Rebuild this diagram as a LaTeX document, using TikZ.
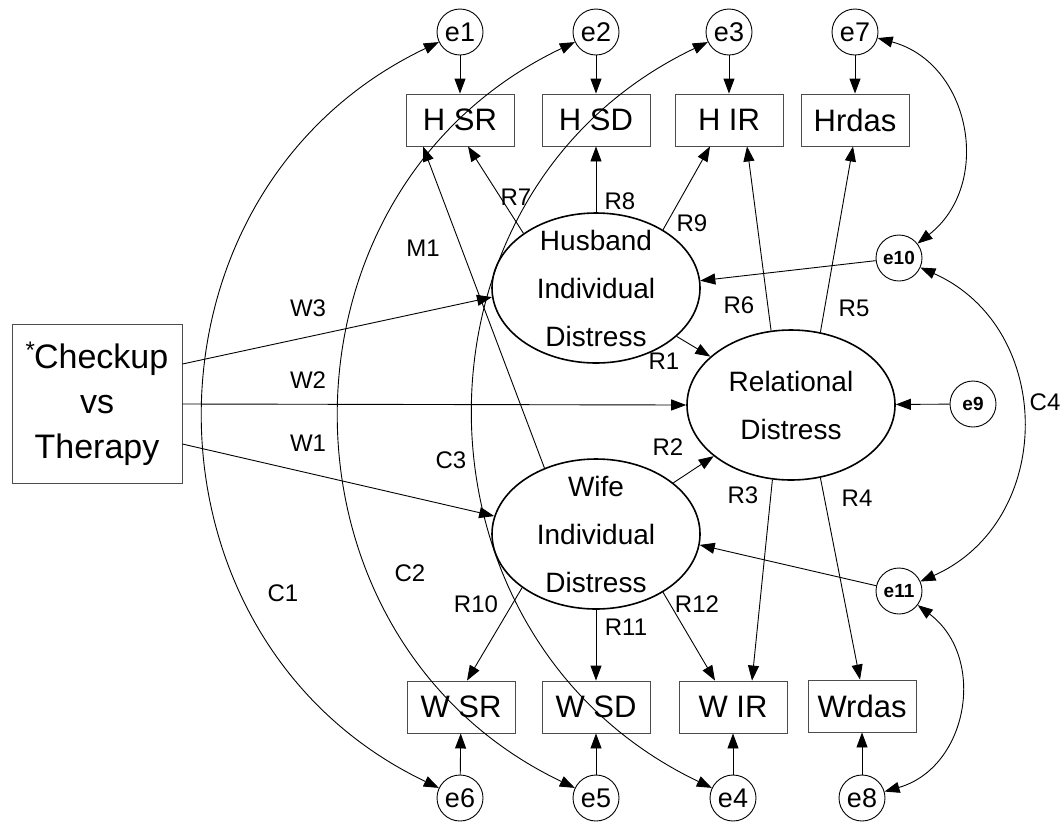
\documentclass[tikz,border=0pt]{standalone}
\usepackage{fontspec}
\setmainfont{Liberation Sans}
\usetikzlibrary{arrows.meta,shapes.geometric}
\begin{document}
\begin{tikzpicture}[x=1pt,y=1pt,
  >={Triangle[length=15pt,width=11pt]},
  conn/.style={->, line width=0.9pt},
  cov/.style={<->, line width=0.9pt},
  err/.style={circle, draw, line width=0.9pt, minimum size=46pt, inner sep=0pt, font=\fontsize{27}{27}\selectfont},
  errb/.style={circle, draw, line width=0.9pt, minimum size=46pt, inner sep=0pt, font=\fontsize{19}{19}\selectfont\bfseries},
  obs/.style={rectangle, draw=black!70, line width=0.9pt, minimum width=108pt, minimum height=52pt, inner sep=0pt, font=\fontsize{31}{31}\selectfont},
  lat/.style={ellipse, draw, line width=1.6pt, minimum width=208pt, minimum height=150pt, inner sep=0pt},
  lattext/.style={align=center, inner sep=0pt, font=\fontsize{28}{48}\selectfont},
  lbl/.style={font=\fontsize{24}{24}\selectfont, inner sep=0pt}]
\useasboundingbox (0,0) rectangle (1062,-823);

% observed / error nodes top
\node[err] (e1) at (460,-32) {e1};
\node[err] (e2) at (596,-32) {e2};
\node[err] (e3) at (729,-32) {e3};
\node[err] (e7) at (855,-32) {e7};
\node[obs] (hsr) at (460,-120) {H SR};
\node[obs] (hsd) at (596,-120) {H SD};
\node[obs] (hir) at (729,-120) {H IR};
\node[obs] (hrd) at (855,-120) {Hrdas};
% bottom
\node[obs] (wsr) at (461,-707) {W SR};
\node[obs] (wsd) at (596,-707) {W SD};
\node[obs] (wir) at (733,-707) {W IR};
\node[obs] (wrd) at (862,-706) {Wrdas};
\node[err] (e6) at (460,-798) {e6};
\node[err] (e5) at (596,-798) {e5};
\node[err] (e4) at (733,-798) {e4};
\node[err] (e8) at (862,-798) {e8};
% latent
\node[lat, label={[lattext]center:{Husband\\Individual\\Distress}}] (hus) at (596,-288) {};
\node[lat, label={[lattext]center:{Relational\\Distress}}] (rel) at (791,-405) {};
\node[lat, label={[lattext]center:{Wife\\Individual\\Distress}}] (wif) at (596,-534) {};
\node[errb] (e10) at (899,-258) {e10};
\node[errb] (e9) at (973,-404) {e9};
\node[errb] (e11) at (899,-591) {e11};
% exogenous
\node[rectangle, draw=black!70, line width=0.9pt, minimum width=170pt, minimum height=159pt, inner sep=0pt, align=center, font=\fontsize{34}{45}\selectfont] (chk) at (97,-404) {\raisebox{0.3em}{\fontsize{24}{24}\selectfont *}\kern-1pt Checkup\\vs\\Therapy};

% error arrows
\draw[conn] (e1) -- (hsr);
\draw[conn] (e2) -- (hsd);
\draw[conn] (e3) -- (hir);
\draw[conn] (e7) -- (hrd);
\draw[conn] (e6) -- (wsr);
\draw[conn] (e5) -- (wsd);
\draw[conn] (e4) -- (wir);
\draw[conn] (e8) -- (wrd);
\draw[conn] (e10) -- (hus.4);
\draw[conn] (e11) -- (wif.-6);
\draw[conn] (e9) -- (rel);

% loadings
\draw[conn] (hus.143.6) -- ([xshift=8pt]hsr.south);
\draw[conn] (hus.north) -- (hsd.south);
\draw[conn] (hus.41.4) -- ([xshift=-19pt]hir.south);
\draw[conn] (rel.105.3) -- ([xshift=18pt]hir.south);
\draw[conn] (rel.68.7) -- ([xshift=-2pt]hrd.south);
\draw[conn] (wif.128.2) -- ([xshift=-37pt]hsr.south);
\draw[conn] (rel.256.7) -- ([xshift=19pt]wir.north);
\draw[conn] (rel.292.3) -- ([xshift=-2pt]wrd.north);
\draw[conn] (wif.216) -- ([xshift=6pt]wsr.north);
\draw[conn] (wif.south) -- (wsd.north);
\draw[conn] (wif.319.5) -- ([xshift=-18pt]wir.north);
% structural
\draw[conn] (hus) -- (rel);
\draw[conn] (wif) -- (rel);
\draw[conn] ([yshift=40pt]chk.east) -- (hus.185.5);
\draw[conn] (chk.east) -- (rel.west);
\draw[conn] ([yshift=-40pt]chk.east) -- (wif.170);

% covariances
\draw[cov] (e1) to[out=205.5,in=154.5,looseness=1.19] (e6);
\draw[cov] (e2) to[out=205.5,in=154.5,looseness=1.19] (e5);
\draw[cov] (e3) to[out=205.5,in=154.5,looseness=1.19] (e4);
\draw[cov] (e7) to[out=-15,in=38,looseness=1.18] (e10);
\draw[cov] (e10) to[out=-24,in=24,looseness=1.21] (e11);
\draw[cov] (e11) to[out=-37,in=16,looseness=1.18] (e8);

% labels
\node[lbl] (lR7) at (516,-197) {R7};
\node[lbl] (lR8) at (620,-201) {R8};
\node[lbl] (lR9) at (692,-223) {R9};
\node[lbl] (lR6) at (739,-305) {R6};
\node[lbl] (lR5) at (854,-308) {R5};
\node[lbl] (lR1) at (664,-361) {R1};
\node[lbl] (lR2) at (668,-447) {R2};
\node[lbl] (lR3) at (743,-495) {R3};
\node[lbl] (lR4) at (857,-498) {R4};
\node[lbl] (lR10) at (476,-604) {R10};
\node[lbl] (lR11) at (626,-627) {R11};
\node[lbl] (lR12) at (697,-604) {R12};
\node[lbl] (lW3) at (308,-308) {W3};
\node[lbl] (lW2) at (308,-380) {W2};
\node[lbl] (lW1) at (308,-443) {W1};
\node[lbl] (lM1) at (423,-248) {M1};
\node[lbl] (lC1) at (283,-593) {C1};
\node[lbl] (lC2) at (410,-573) {C2};
\node[lbl] (lC3) at (451,-460) {C3};
\node[lbl] (lC4) at (1045,-402) {C4};
\end{tikzpicture}
\end{document}
